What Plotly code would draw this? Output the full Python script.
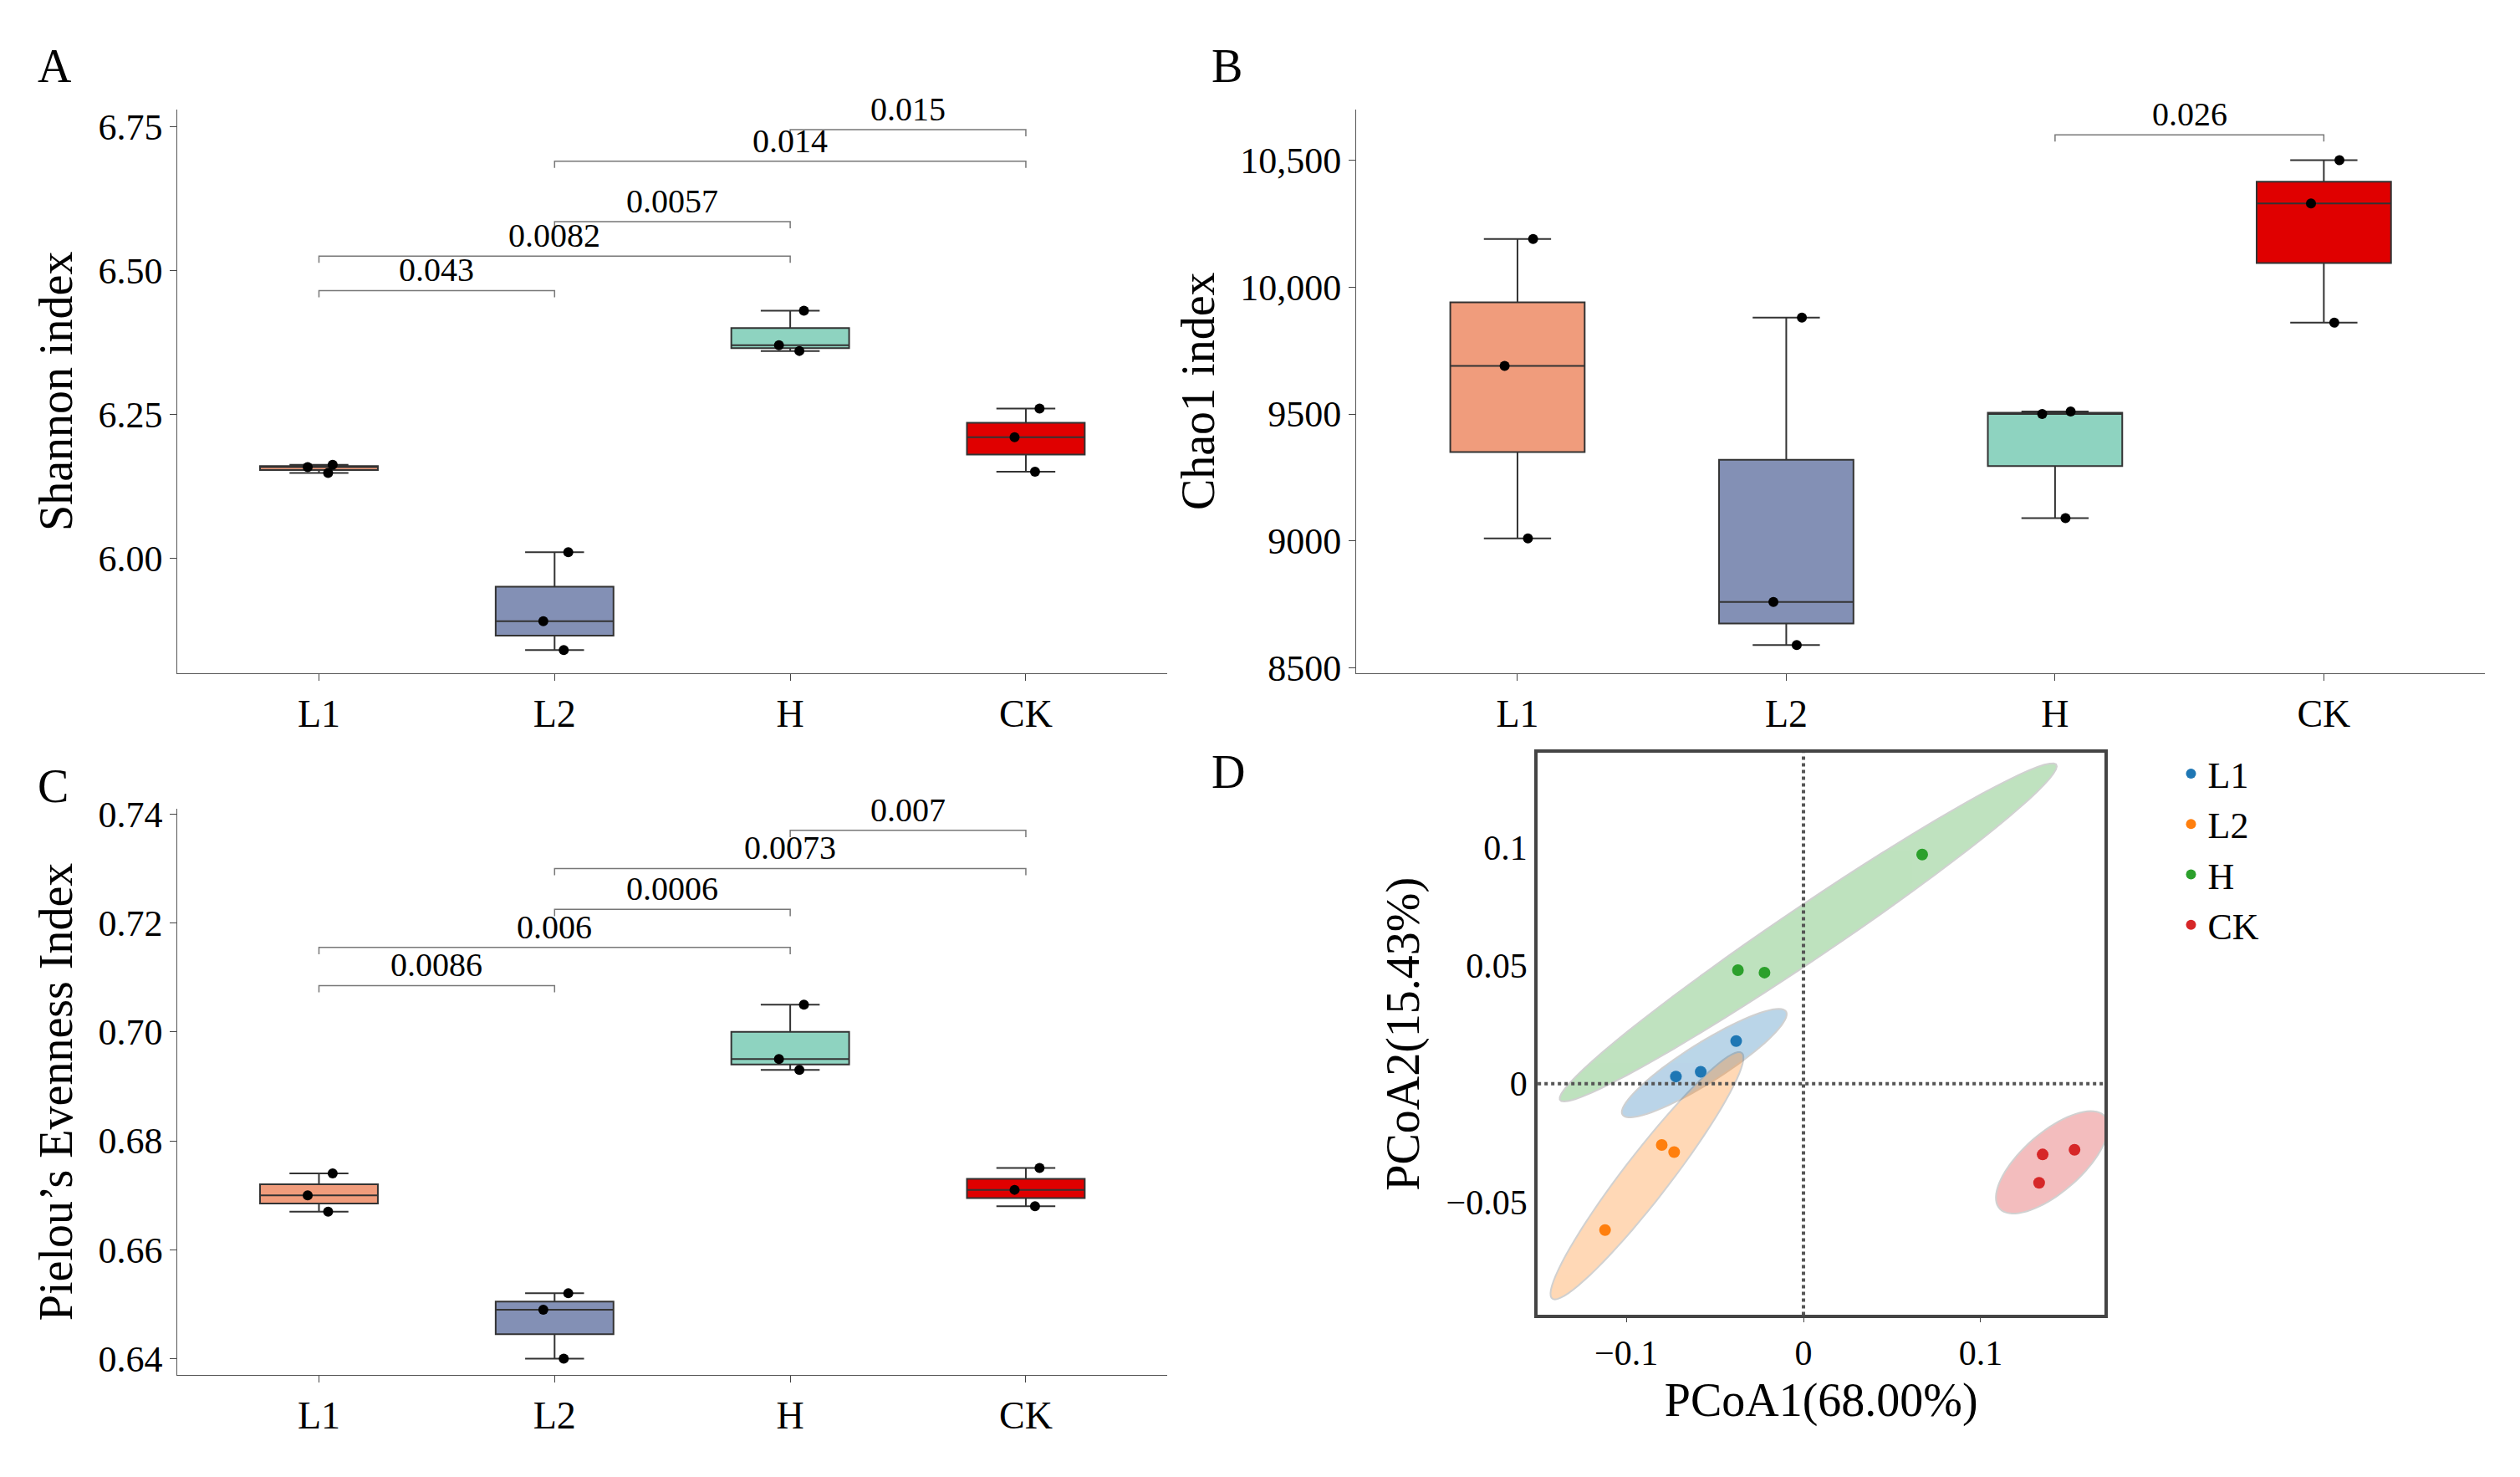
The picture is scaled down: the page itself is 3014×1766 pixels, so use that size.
import numpy as np
import plotly.graph_objects as go

groups = ["L1", "L2", "H", "CK"]
box_colors = ["#F09C7C", "#8390B5", "#8ED3C0", "#E00000"]
pcoa_colors = ["#1f77b4", "#ff7f0e", "#2ca02c", "#d62728"]

shannon = [[6.148, 6.158, 6.162], [5.84, 5.89, 6.01], [6.36, 6.37, 6.43], [6.15, 6.21, 6.26]]
chao1 = [[9010, 9690, 10190], [8590, 8760, 9880], [9090, 9500, 9510], [9860, 10330, 10500]]
pielou = [[0.667, 0.670, 0.674], [0.640, 0.649, 0.652], [0.693, 0.695, 0.705], [0.668, 0.671, 0.675]]

shannon_sig = [(0, 1, 6.465, "0.043"), (0, 2, 6.525, "0.0082"), (1, 2, 6.585, "0.0057"),
               (1, 3, 6.69, "0.014"), (2, 3, 6.745, "0.015")]
chao1_sig = [(2, 3, 10600, "0.026")]
pielou_sig = [(0, 1, 0.7085, "0.0086"), (0, 2, 0.7155, "0.006"), (1, 2, 0.7225, "0.0006"),
              (1, 3, 0.730, "0.0073"), (2, 3, 0.737, "0.007")]

pc1 = [[-0.072, -0.058, -0.038], [-0.112, -0.080, -0.073], [-0.037, -0.022, 0.067], [0.133, 0.135, 0.153]]
pc2 = [[0.003, 0.005, 0.018], [-0.062, -0.026, -0.029], [0.048, 0.047, 0.097], [-0.042, -0.030, -0.028]]

FONT = "Liberation Serif"
fig = go.Figure()
shapes = []
annotations = []

panels = [
    ("x", "y", shannon, shannon_sig, "Shannon index", [5.80, 6.78], [6.0, 6.25, 6.5, 6.75], ["6.00", "6.25", "6.50", "6.75"]),
    ("x2", "y2", chao1, chao1_sig, "Chao1 index", [8480, 10700], [8500, 9000, 9500, 10000, 10500], ["8500", "9000", "9500", "10,000", "10,500"]),
    ("x3", "y3", pielou, pielou_sig, "Pielou’s Evenness Index", [0.637, 0.741], [0.64, 0.66, 0.68, 0.70, 0.72, 0.74], ["0.64", "0.66", "0.68", "0.70", "0.72", "0.74"]),
]

for xa, ya, data, sig, title, yr, tv, tt in panels:
    for i, g in enumerate(groups):
        fig.add_trace(go.Box(
            x=[i] * len(data[i]), y=data[i], xaxis=xa, yaxis=ya,
            fillcolor=box_colors[i], line=dict(color="#333333", width=2),
            boxpoints="all", jitter=0.3, pointpos=0, width=0.5,
            marker=dict(color="black", size=12), showlegend=False, quartilemethod="inclusive"))
    span = yr[1] - yr[0]
    for a, b, yv, label in sig:
        tick = span * 0.012
        shapes.append(dict(type="path", xref=xa, yref=ya,
                           path=f"M {a},{yv - tick} L {a},{yv} L {b},{yv} L {b},{yv - tick}",
                           line=dict(color="#777777", width=1.5)))
        annotations.append(dict(x=(a + b) / 2, y=yv, xref=xa, yref=ya, text=label, showarrow=False,
                                yanchor="bottom", font=dict(size=40, family=FONT, color="black")))
    ax_n = xa[1:] if len(xa) > 1 else ""
    fig.layout["xaxis" + ax_n] = dict(tickvals=[0, 1, 2, 3], ticktext=groups, range=[-0.6, 3.6],
                                     showline=True, linecolor="#555", ticks="outside", ticklen=8,
                                     showgrid=False, zeroline=False, anchor=ya,
                                     tickfont=dict(size=46, family=FONT, color="black"))
    fig.layout["yaxis" + ax_n] = dict(range=yr, tickvals=tv, ticktext=tt, showline=True, linecolor="#555",
                                     ticks="outside", ticklen=8, showgrid=False, zeroline=False, anchor=xa,
                                     title=dict(text=title, font=dict(size=56, family=FONT, color="black"), standoff=12),
                                     tickfont=dict(size=44, family=FONT, color="black"))

fig.layout.xaxis.domain = [0.062, 0.46]
fig.layout.yaxis.domain = [0.55, 0.945]
fig.layout.xaxis2.domain = [0.536, 0.99]
fig.layout.yaxis2.domain = [0.55, 0.945]
fig.layout.xaxis3.domain = [0.062, 0.46]
fig.layout.yaxis3.domain = [0.058, 0.455]

# PCoA panel with covariance ellipses
t = np.linspace(0, 2 * np.pi, 80)
for i, g in enumerate(groups):
    px, py = np.array(pc1[i]), np.array(pc2[i])
    mx, my = px.mean(), py.mean()
    cov = np.cov(px, py)
    vals, vecs = np.linalg.eigh(cov)
    vals = np.maximum(vals, 0)
    r_minor = 1.8 * np.sqrt(vals[0]) + 0.005
    r_major = 2.4 * np.sqrt(vals[1]) + 0.006
    ex = mx + r_major * np.cos(t) * vecs[0, 1] + r_minor * np.sin(t) * vecs[0, 0]
    ey = my + r_major * np.cos(t) * vecs[1, 1] + r_minor * np.sin(t) * vecs[1, 0]
    path = "M " + " L ".join(f"{a},{b}" for a, b in zip(ex, ey)) + " Z"
    shapes.append(dict(type="path", xref="x4", yref="y4", path=path, fillcolor=pcoa_colors[i],
                       opacity=0.3, line=dict(color="#666", width=2), layer="below"))
    fig.add_trace(go.Scatter(x=pc1[i], y=pc2[i], mode="markers", name=g, xaxis="x4", yaxis="y4",
                             marker=dict(color=pcoa_colors[i], size=14)))

shapes.append(dict(type="line", xref="x4", yref="y4 domain", x0=0, x1=0, y0=0, y1=1,
                   line=dict(color="#555", width=4, dash="dot")))
shapes.append(dict(type="line", xref="x4 domain", yref="y4", x0=0, x1=1, y0=0, y1=0,
                   line=dict(color="#555", width=4, dash="dot")))

fig.update_layout(
    xaxis4=dict(domain=[0.609, 0.837], anchor="y4", range=[-0.15, 0.17], tickvals=[-0.1, 0, 0.1],
                ticktext=["−0.1", "0", "0.1"], showline=True, mirror=True, linecolor="#444", linewidth=4,
                showgrid=False, zeroline=False, ticks="outside",
                title=dict(text="PCoA1(68.00%)", font=dict(size=56, family=FONT, color="black")),
                tickfont=dict(size=42, family=FONT, color="black")),
    yaxis4=dict(domain=[0.10, 0.494], anchor="x4", range=[-0.098, 0.14], tickvals=[-0.05, 0, 0.05, 0.1],
                ticktext=["−0.05", "0", "0.05", "0.1"], showline=True, mirror=True, linecolor="#444",
                linewidth=4, showgrid=False, zeroline=False,
                title=dict(text="PCoA2(15.43%)", font=dict(size=56, family=FONT, color="black")),
                tickfont=dict(size=42, family=FONT, color="black")),
    legend=dict(x=0.865, y=0.5, yanchor="top", font=dict(size=44, family=FONT, color="black"),
                itemsizing="constant", tracegroupgap=30),
    shapes=shapes,
    annotations=annotations + [
        dict(x=xp, y=yp, xref="paper", yref="paper", text=lab, showarrow=False,
             font=dict(size=56, family=FONT, color="black"), xanchor="left", yanchor="top")
        for xp, yp, lab in [(0.005, 0.995, "A"), (0.477, 0.995, "B"), (0.005, 0.49, "C"), (0.477, 0.5, "D")]
    ],
    plot_bgcolor="white", paper_bgcolor="white",
    width=3014, height=1766, margin=dict(l=20, r=20, t=20, b=20),
)

fig.write_html("out.html")
